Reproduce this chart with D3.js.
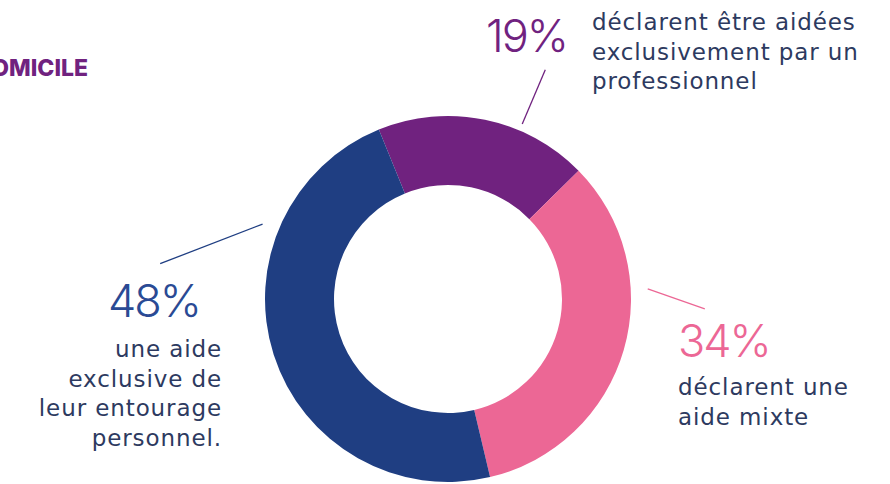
<!DOCTYPE html>
<html>
<head>
<meta charset="utf-8">
<script src="https://cdn.jsdelivr.net/npm/d3@7"></script>
<style>
  html, body { margin: 0; padding: 0; background: #ffffff; overflow: hidden; }
  svg { display: block; font-family: "Inter", "Open Sans", sans-serif; }
  .pct { font-weight: 300; letter-spacing: -2px; }
  .desc { fill: #2d3a60; font-family: "DejaVu Sans", sans-serif; letter-spacing: 0.9px; }
</style>
</head>
<body>
<script>
var width = 890;
var height = 484;

// donnees
var categories = ["professionnel", "mixte", "entourage"];
var valeurs = [19, 34, 48];
var couleurs = ["#70227f", "#ec6795", "#1f3e82"];
var pourcentages = ["19%", "34%", "48%"];
var descriptions = [
    ["déclarent être aidées", "exclusivement par un", "professionnel"],
    ["déclarent une", "aide mixte"],
    ["une aide", "exclusive de", "leur entourage", "personnel."]
];
var titre = "DOMICILE";

var cx = 448, cy = 299;
var rayonExt = 183, rayonInt = 114;
var debut = -22.2 * Math.PI / 180;

var svg = d3.select("body").append("svg")
    .attr("width", width)
    .attr("height", height);

// titre coupe a gauche
svg.append("text")
    .attr("x", 88)
    .attr("y", 76)
    .attr("text-anchor", "end")
    .attr("fill", "#70227f")
    .style("font-weight", 800)
    .style("font-size", "23px")
    .text(titre);

var pie = d3.pie()
    .sort(null)
    .startAngle(debut)
    .endAngle(debut + 2 * Math.PI);

var arc = d3.arc()
    .innerRadius(rayonInt)
    .outerRadius(rayonExt);

var gDonut = svg.append("g")
    .attr("transform", "translate(" + cx + "," + cy + ")");

gDonut.selectAll("path")
    .data(pie(valeurs))
    .enter().append("path")
    .attr("d", arc)
    .attr("fill", function(d, i){ return couleurs[i]; });

// lignes de rappel (angle en degres, rayon debut/fin)
var rappels = [
    {a1: 23, r1: 190, a2: 23, r2: 249},
    {a1: 87.1, r1: 200, a2: 92.2, r2: 257},
    {a1: -68, r1: 200, a2: -83, r2: 290}
];

function polaire(a, r){
    var rad = a * Math.PI / 180;
    return [cx + r * Math.sin(rad), cy - r * Math.cos(rad)];
}

rappels.forEach(function(l, i){
    var p1 = polaire(l.a1, l.r1), p2 = polaire(l.a2, l.r2);
    svg.append("line")
        .attr("x1", p1[0]).attr("y1", p1[1])
        .attr("x2", p2[0]).attr("y2", p2[1])
        .attr("stroke", couleurs[i])
        .attr("stroke-width", 1.3);
});

// etiquettes
var etiquettes = [
    {px: 567, py: 52, pAnchor: "end", dx: 592, dy: 30, dAnchor: "start", pColor: "#70227f"},
    {px: 678, py: 357, pAnchor: "start", dx: 678, dy: 395, dAnchor: "start", pColor: "#ec6795"},
    {px: 200, py: 317, pAnchor: "end", dx: 222, dy: 357, dAnchor: "end", pColor: "#2a4a94"}
];

etiquettes.forEach(function(e, i){
    svg.append("text")
        .attr("class", "pct")
        .attr("x", e.px)
        .attr("y", e.py)
        .attr("text-anchor", e.pAnchor)
        .attr("fill", e.pColor)
        .style("font-size", "45px")
        .text(pourcentages[i]);

    var t = svg.append("text")
        .attr("class", "desc")
        .attr("text-anchor", e.dAnchor)
        .style("font-size", "23px");

    descriptions[i].forEach(function(ligne, j){
        t.append("tspan")
            .attr("x", e.dx)
            .attr("y", e.dy + j * 29.5)
            .text(ligne);
    });
});
</script>
</body>
</html>
